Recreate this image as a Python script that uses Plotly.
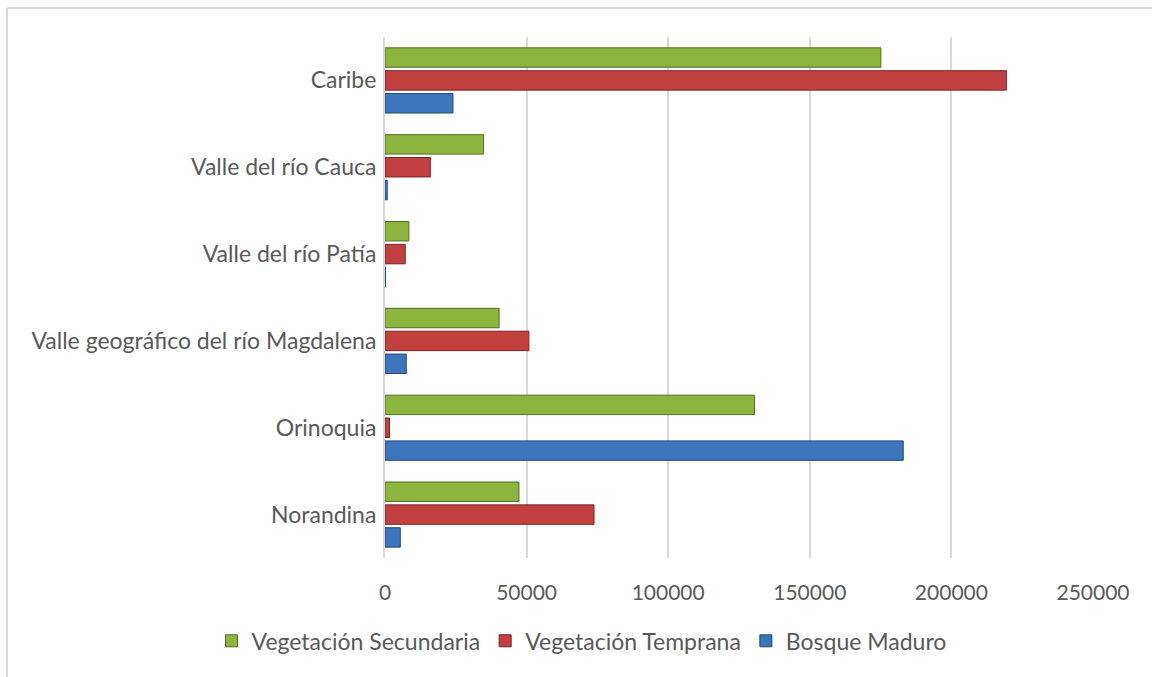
import plotly.graph_objects as go

# Regions, bottom to top as drawn
regions = ['Norandina', 'Orinoquia', 'Valle geográfico del río Magdalena',
           'Valle del río Patía', 'Valle del río Cauca', 'Caribe']

bosque_maduro = [5400, 183000, 7500, 200, 800, 24000]
veg_temprana = [73800, 1600, 50800, 7150, 16000, 219400]
veg_secundaria = [47300, 130500, 40300, 8430, 34800, 175100]

x_ticks = [0, 50000, 100000, 150000, 200000, 250000]

font_name = 'Lato'
grey = '#595959'

fig = go.Figure(
    layout=go.Layout(
        width=1152,
        height=677,
        paper_bgcolor='white',
        plot_bgcolor='white',
        margin={'t': 37, 'b': 119, 'l': 385, 'r': 59},
        barmode='group',
        bargap=0.21,
        bargroupgap=0.15,
        font=dict(family=font_name, size=23, color=grey),
        legend=dict(
            orientation='h',
            traceorder='reversed',
            x=-0.245,
            xanchor='left',
            y=-0.159,
            yanchor='middle',
            font=dict(size=23, color=grey),
        ),
    )
)

series = [
    ('Bosque Maduro', bosque_maduro, '#3d75bd', '#24497a'),
    ('Vegetación Temprana', veg_temprana, '#c2413f', '#7a2424'),
    ('Vegetación Secundaria', veg_secundaria, '#8db43e', '#556e22'),
]
for name, vals, col, edge in series:
    fig.add_trace(
        go.Bar(
            name=name,
            y=regions,
            x=vals,
            orientation='h',
            marker=dict(color=col, line=dict(color=edge, width=1)),
        )
    )

fig.update_xaxes(
    range=[0, 250000],
    tickvals=x_ticks,
    ticktext=[str(v) for v in x_ticks],
    showgrid=True,
    gridcolor='#d9d9d9',
    gridwidth=1.5,
    zeroline=False,
    showline=False,
    ticks='',
    ticklabelstandoff=20,
    tickfont=dict(size=21, color=grey),
)
fig.update_yaxes(
    showline=True,
    linecolor='#d9d9d9',
    linewidth=2,
    ticks='',
    ticklabelstandoff=2,
    tickfont=dict(size=23, color=grey),
)

# outer chart border: only its top and left edges are inside the crop
fig.add_shape(type='line', xref='paper', yref='paper',
              x0=-0.534, x1=1.2, y0=1.0557, y1=1.0557,
              line=dict(color='#d9d9d9', width=2))
fig.add_shape(type='line', xref='paper', yref='paper',
              x0=-0.534, x1=-0.534, y0=-0.3, y1=1.0557,
              line=dict(color='#d9d9d9', width=2))

# drop the default page margin so the figure fills the window exactly
fig.write_html('out.html',
               config={'displayModeBar': False},
               post_script="document.body.style.margin='0';"
                           "document.body.style.overflow='hidden';")
